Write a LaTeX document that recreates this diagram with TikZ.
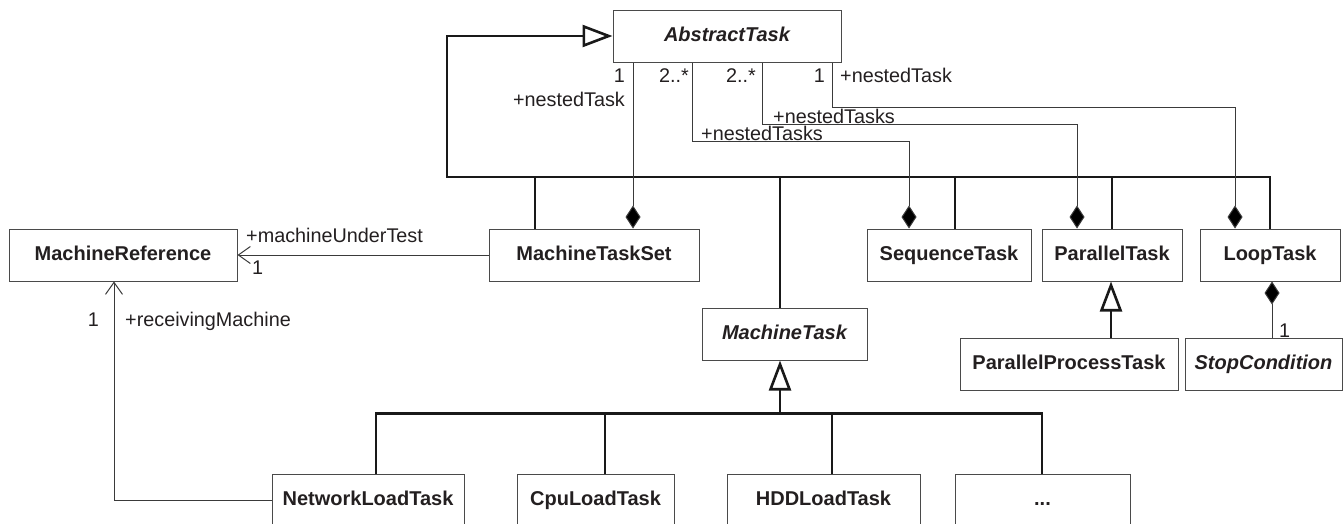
\documentclass[tikz,border=0pt]{standalone}
\usepackage{fontspec}
\setmainfont{Liberation Sans}
\usetikzlibrary{arrows.meta}
\definecolor{ln}{HTML}{3A3A3A}
\definecolor{bx}{HTML}{4A4A4A}
\definecolor{tx}{HTML}{231F20}
\begin{document}
\begin{tikzpicture}[x=1pt,y=-1pt,
  font=\fontsize{19.8pt}{23pt}\selectfont, text=tx,
  cls/.style={draw=bx, line width=1pt, rectangle, inner sep=0pt, minimum height=52pt,
    text height=14.5pt, text depth=4pt,
    font=\fontsize{20pt}{23pt}\selectfont\bfseries},
  acls/.style={cls, font=\fontsize{20pt}{23pt}\selectfont\bfseries\itshape},
  thinl/.style={draw=ln, line width=1pt},
  genl/.style={draw=black!90, line width=2.6pt},
  gen/.style={genl, -{Triangle[length=30pt,width=22pt,fill=white]}},
  comp/.style={thinl, -{Diamond[length=23pt,width=15pt,fill=black]}},
  assoc/.style={thinl, -{Straight Barb[length=12pt,width=17pt]}},
  lbl/.style={inner sep=0pt}
]
\useasboundingbox (0,0) rectangle (1343,523);
\clip (0,0) rectangle (1343,523);

% classes
\node[acls, minimum width=228pt] (at)   at (727,36)    {AbstractTask};
\node[cls,  minimum width=228pt] (mr)   at (123,255)   {MachineReference};
\node[cls,  minimum width=210pt] (mts)  at (594,255)   {MachineTaskSet};
\node[cls,  minimum width=164pt] (seq)  at (949,255)   {SequenceTask};
\node[cls,  minimum width=140pt] (par)  at (1112,255)  {ParallelTask};
\node[cls,  minimum width=140pt] (loop) at (1270,255)  {LoopTask};
\node[acls, minimum width=165pt] (mt)   at (784.5,334) {MachineTask};
\node[cls,  minimum width=218pt] (ppt)  at (1069,364)  {ParallelProcessTask};
\node[acls, minimum width=157pt] (sc)   at (1263.5,364) {StopCondition};
\node[cls,  minimum width=192pt] (nlt)  at (368,500)   {NetworkLoadTask};
\node[cls,  minimum width=157pt] (cpu)  at (595.5,500) {CpuLoadTask};
\node[cls,  minimum width=193pt] (hdd)  at (823.5,500) {HDDLoadTask};
\node[cls,  minimum width=175pt] (dots) at (1042.5,500) {...};

% generalization tree to AbstractTask
\coordinate (tl) at (447,177);
\draw[gen] (loop.north) -- (loop.north |- tl) -- (tl) |- (at.west);
\draw[genl] ([xshift=-59pt]mts.north) -- +(0,-52);
\draw[genl] ([xshift=-4.5pt]mt.north) -- +(0,-131);
\draw[genl] ([xshift=6pt]seq.north) -- +(0,-52);
\draw[genl] (par.north) -- +(0,-52);

% generalization tree to MachineTask
\coordinate (mtb) at (780,414);
\draw[genl] ([xshift=8pt]nlt.north) -- ++(0,-60) -| ([xshift=-0.5pt]dots.north);
\draw[genl] ([xshift=9.5pt]cpu.north) -- +(0,-60);
\draw[genl] ([xshift=8.5pt]hdd.north) -- +(0,-60);
\draw[gen] (mtb) -- (mtb |- mt.south);

% ParallelProcessTask -> ParallelTask
\draw[gen] ([xshift=42pt]ppt.north) -- ([xshift=-1pt]par.south);

% compositions
\draw[comp] ([xshift=-94pt]at.south) -- ([xshift=39pt]mts.north);
\draw[comp] ([xshift=-35pt]at.south) -- ++(0,79) -| ([xshift=-40pt]seq.north);
\draw[comp] ([xshift=35pt]at.south) -- ++(0,62) -| ([xshift=-35pt]par.north);
\draw[comp] ([xshift=105pt]at.south) -- ++(0,45) -| ([xshift=-35pt]loop.north);
\draw[comp] ([xshift=8.5pt]sc.north) -- ([xshift=2pt]loop.south);

% associations
\draw[assoc] (mts.west) -- (mr.east);
\draw[assoc] (nlt.west) -| ([xshift=-9pt]mr.south);

% labels
\node[lbl, anchor=base east] (m1) at (625,82)  {1};
\node[lbl, anchor=base east] (r1) at (625,106) {+nestedTask};
\node[lbl, anchor=base east] (m2) at (689,82)  {2..*};
\node[lbl, anchor=base west] (r2) at (701,140) {+nestedTasks};
\node[lbl, anchor=base east] (m3) at (756,82)  {2..*};
\node[lbl, anchor=base west] (r3) at (773,123) {+nestedTasks};
\node[lbl, anchor=base east] (m4) at (825,82)  {1};
\node[lbl, anchor=base west] (r4) at (840,82)  {+nestedTask};
\node[lbl, anchor=base west] (r5) at (246,242) {+machineUnderTest};
\node[lbl, anchor=base west] (m5) at (252,274) {1};
\node[lbl, anchor=base east] (m6) at (99,326)  {1};
\node[lbl, anchor=base west] (r6) at (125,326) {+receivingMachine};
\node[lbl, anchor=base west] (m7) at (1279,337) {1};
\end{tikzpicture}
\end{document}
